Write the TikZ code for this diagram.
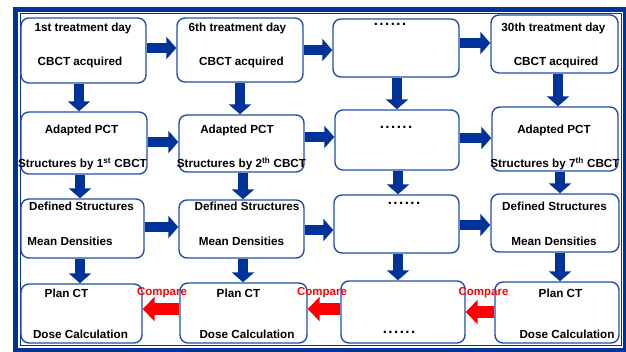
\documentclass[tikz,border=0pt]{standalone}
\usepackage{fontspec}
\setmainfont{Liberation Sans}
\usetikzlibrary{arrows.meta,fit}
\definecolor{boxc}{RGB}{32,80,170}
\definecolor{darkb}{RGB}{0,51,153}
\definecolor{redc}{RGB}{255,0,0}
\tikzset{
  box/.style={draw=boxc, line width=1.4pt, rounded corners=8pt, inner sep=0pt, fill=white},
  txt/.style={inner sep=0pt, font=\fontsize{11.7}{14}\selectfont\bfseries},
  dots/.style={inner sep=0pt, anchor=base, font=\fontsize{15}{16}\selectfont\bfseries\addfontfeatures{LetterSpace=10}},
  cmp/.style={inner sep=0pt, text=redc, font=\fontsize{11.5}{14}\selectfont\bfseries},
  barrow/.style={draw=darkb, line width=10pt, -{Triangle[width=22pt,length=10pt]}},
  rarrow/.style={draw=redc, line width=12pt, -{Triangle[width=24pt,length=12pt]}}
}
\begin{document}
\begin{tikzpicture}[x=1pt,y=-1pt]
\useasboundingbox (0,0) rectangle (626,351);
\fill[white] (0,0) rectangle (626,351);
% frame
\draw[darkb, line width=5pt] (15.5,9.5) rectangle (625.5,350.5);
\draw[darkb, line width=1.2pt] (20.5,13.5) rectangle (621.7,345.8);
% boxes
\node[box, fit={(21,18) (146,83)}] (a1) {};
\node[box, fit={(177,18) (303,82)}] (b1) {};
\node[box, fit={(333,19) (459,77)}] (c1) {};
\node[box, fit={(491,15) (618,73)}] (d1) {};
\node[box, fit={(21,112) (147,174)}] (a2) {};
\node[box, fit={(179,115) (304,172)}] (b2) {};
\node[box, fit={(335,110) (459,170)}] (c2) {};
\node[box, fit={(492,107) (618,171)}] (d2) {};
\node[box, fit={(21,199) (144,258)}] (a3) {};
\node[box, fit={(179,200) (304,258)}] (b3) {};
\node[box, fit={(334,195) (459,253)}] (c3) {};
\node[box, fit={(491,194) (619,252)}] (d3) {};
\node[box, fit={(21,284) (142,343)}] (a4) {};
\node[box, fit={(180,283) (307,343)}] (b4) {};
\node[box, fit={(341,281) (465,343)}] (c4) {};
\node[box, fit={(495,282) (619,343)}] (d4) {};
% texts row 1
\node[txt] (ta1) at (83,28) {1st treatment day};
\node[txt] (ta1b) at (80,62) {CBCT acquired};
\node[txt] (tb1) at (237.5,28) {6th treatment day};
\node[txt] (tb1b) at (241.5,62) {CBCT acquired};
\node[dots] (tc1) at (390,25.5) {......};
\node[txt] (td1) at (553.5,28) {30th treatment day};
\node[txt] (td1b) at (556,62) {CBCT acquired};
% row 2
\node[txt] (ta2) at (81.5,130) {Adapted PCT};
\node[txt] (ta2b) at (82.5,164) {Structures by 1\textsuperscript{st} CBCT};
\node[txt] (tb2) at (237,130) {Adapted PCT};
\node[txt] (tb2b) at (241.5,164) {Structures by 2\textsuperscript{th} CBCT};
\node[dots] (tc2) at (396,128) {......};
\node[txt] (td2) at (554,130) {Adapted PCT};
\node[txt] (td2b) at (555,164) {Structures by 7\textsuperscript{th} CBCT};
% row 3
\node[txt] (ta3) at (81.5,206) {Defined Structures};
\node[txt] (ta3b) at (70,241) {Mean Densities};
\node[txt] (tb3) at (247,206) {Defined Structures};
\node[txt] (tb3b) at (241.5,241) {Mean Densities};
\node[dots] (tc3) at (404,204) {......};
\node[txt] (td3) at (554.5,206) {Defined Structures};
\node[txt] (td3b) at (554,241) {Mean Densities};
% row 4
\node[txt] (ta4) at (66.5,293) {Plan CT};
\node[txt] (ta4b) at (80.5,334) {Dose Calculation};
\node[txt] (tb4) at (238.5,293) {Plan CT};
\node[txt] (tb4b) at (247,334) {Dose Calculation};
\node[dots] (tc4) at (399,333) {......};
\node[txt] (td4) at (560.5,293) {Plan CT};
\node[txt] (td4b) at (567,334) {Dose Calculation};
% horizontal blue arrows
\draw[barrow] (a1.east |- 0,48) -- (b1.west |- 0,48);
\draw[barrow] (b1.east |- 0,50) -- (c1.west |- 0,50);
\draw[barrow] (c1.east |- 0,43) -- (d1.west |- 0,43);
\draw[barrow] (a2.east |- 0,142) -- (b2.west |- 0,142);
\draw[barrow] (b2.east |- 0,137) -- (c2.west |- 0,137);
\draw[barrow] (c2.east |- 0,138) -- (d2.west |- 0,138);
\draw[barrow] (a3.east |- 0,227) -- (b3.west |- 0,227);
\draw[barrow] (b3.east |- 0,230) -- (c3.west |- 0,230);
\draw[barrow] (c3.east |- 0,225) -- (d3.west |- 0,225);
% vertical blue arrows
\draw[barrow] (a1.south -| 79,0) -- (a2.north -| 79,0);
\draw[barrow] (b1.south -| 240,0) -- (b2.north -| 240,0);
\draw[barrow] (c1.south -| 397,0) -- (c2.north -| 397,0);
\draw[barrow] (d1.south -| 558,0) -- (d2.north -| 558,0);
\draw[barrow] (a2.south -| 80,0) -- (a3.north -| 80,0);
\draw[barrow] (b2.south -| 243,0) -- (b3.north -| 243,0);
\draw[barrow] (c2.south -| 398,0) -- (c3.north -| 398,0);
\draw[barrow] (d2.south -| 560,0) -- (d3.north -| 560,0);
\draw[barrow] (a3.south -| 80,0) -- (a4.north -| 80,0);
\draw[barrow] (b3.south -| 243,0) -- (b4.north -| 243,0);
\draw[barrow] (c3.south -| 398,0) -- (c4.north -| 398,0);
\draw[barrow] (d3.south -| 560,0) -- (d4.north -| 560,0);
% red compare arrows
\draw[rarrow] (b4.west |- 0,309) -- (a4.east |- 0,309);
\draw[rarrow] (c4.west |- 0,309) -- (b4.east |- 0,309);
\draw[rarrow] (d4.west |- 0,312) -- (c4.east |- 0,312);
\node[cmp] (cp1) at (162,293) {Compare};
\node[cmp] (cp2) at (322,293) {Compare};
\node[cmp] (cp3) at (483.5,293) {Compare};
\end{tikzpicture}
\end{document}
